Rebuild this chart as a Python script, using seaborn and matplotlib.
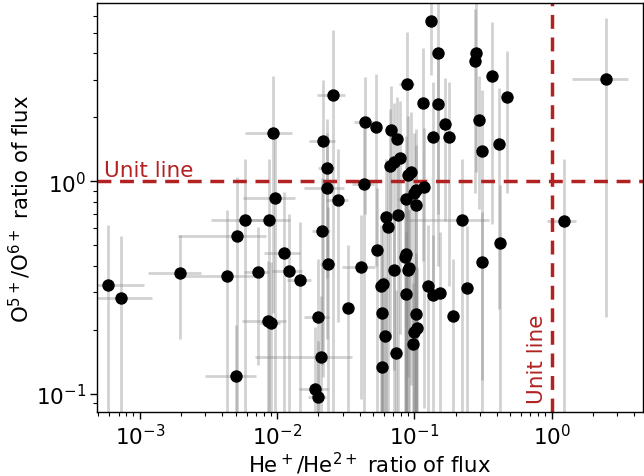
import numpy as np
import pandas as pd
import seaborn as sns
import matplotlib
matplotlib.use("Agg")
import matplotlib.pyplot as plt

sns.set_theme(style="ticks")
plt.rcParams['font.family'] = ['DejaVu Sans']
# seaborn greys the text and ticks, the reference keeps them black
plt.rcParams.update({"text.color": "black", "axes.labelcolor": "black",
                     "xtick.color": "black", "ytick.color": "black"})

# He+/He2+ ratio (x) and O5+/O6+ ratio (y)
he_ratio = [5.9e-4, 7.3e-4, 1.97e-3, 4.3e-3, 5.0e-3, 5.1e-3, 5.8e-3, 8.75e-3, 9.3e-3, 9.6e-3,
            7.2e-3, 0.0122, 0.0113, 8.55e-3, 9.05e-3, 0.0148, 0.0211, 0.0234, 0.0408, 0.0198,
            0.0327, 0.0209, 0.019, 0.0198, 0.0534, 0.0624, 0.0755, 0.0641, 0.0867, 0.102,
            0.221, 0.0867, 0.0853, 0.0916, 0.0897, 0.0706, 0.0587, 0.0568, 0.0871, 0.125,
            0.1355, 0.153, 0.24, 0.0583, 0.102, 0.19, 0.061, 0.105, 0.099, 0.097,
            0.0738, 0.0577, 1.22, 0.42, 0.311, 0.283, 0.277, 0.368, 0.473, 0.1475,
            0.166, 0.1786, 0.296, 0.31, 0.412, 2.5, 0.132, 0.1475, 0.0877, 0.0254,
            0.115, 0.0434, 0.0527, 0.0675, 0.0741, 0.1356, 0.0217, 0.023, 0.0232, 0.0276,
            0.043, 0.066, 0.0713, 0.0788, 0.0902, 0.0938, 0.117, 0.103, 0.099]
o_ratio = [0.325, 0.282, 0.37, 0.359, 0.121, 0.55, 0.656, 0.656, 1.69, 0.837,
           0.372, 0.379, 0.459, 0.22, 0.216, 0.343, 0.586, 0.409, 0.394, 0.229,
           0.253, 0.149, 0.105, 0.097, 0.476, 0.677, 0.692, 0.607, 0.822, 0.776,
           0.656, 0.456, 0.438, 0.39, 0.382, 0.38, 0.33, 0.321, 0.296, 0.323,
           0.291, 0.299, 0.316, 0.239, 0.238, 0.232, 0.186, 0.204, 0.195, 0.171,
           0.156, 0.133, 0.653, 0.51, 0.416, 4.0, 3.68, 3.13, 2.48, 2.30,
           1.85, 1.62, 1.94, 1.38, 1.50, 3.03, 5.65, 4.0, 2.85, 2.55,
           2.32, 1.90, 1.80, 1.74, 1.58, 1.62, 1.55, 1.15, 0.93, 0.817,
           0.968, 1.18, 1.23, 1.29, 1.07, 1.11, 0.936, 0.906, 0.877]
he_err = [4.8e-4, 5.0e-4, 8.2e-4, 2.5e-3, 2.0e-3, 3.2e-3, 2.5e-3, 3.6e-3, 3.5e-3, 4.0e-3,
          1.5e-3, 3.0e-3, 3.3e-3, 3.0e-3, 1.5e-3, 3.0e-3, 3.0e-3, 3.0e-3, 0.011, 4.0e-3,
          2.0e-3, 0.014, 4.5e-3, 3.0e-3, 5.0e-3, 4.0e-3, 4.0e-3, 4.0e-3, 0.011, 6.0e-3,
          0.13, 5.0e-3, 4.0e-3, 5.0e-3, 4.0e-3, 4.0e-3, 4.0e-3, 3.0e-3, 5.0e-3, 0.012,
          8.0e-3, 0.012, 0.02, 4.0e-3, 8.0e-3, 0.015, 4.0e-3, 0.01, 0.01, 6.0e-3,
          5.0e-3, 4.0e-3, 0.29, 0.03, 0.03, 0.02, 0.02, 0.03, 0.03, 0.01,
          0.012, 0.012, 0.02, 0.02, 0.03, 1.1, 0.01, 0.01, 0.011, 6.0e-3,
          8.0e-3, 7.0e-3, 4.0e-3, 5.0e-3, 5.0e-3, 8.0e-3, 4.7e-3, 3.0e-3, 7.4e-3, 5.0e-3,
          8.0e-3, 5.0e-3, 5.0e-3, 6.0e-3, 8.0e-3, 6.0e-3, 0.01, 8.0e-3, 8.0e-3]
o_err = [0.30, 0.27, 0.19, 0.37, 0.09, 0.50, 0.62, 0.62, 1.45, 0.80,
         0.235, 0.32, 0.43, 0.20, 0.20, 0.30, 0.45, 0.35, 0.30, 0.20,
         0.25, 0.14, 0.10, 0.08, 0.45, 0.60, 0.65, 0.55, 0.80, 0.70,
         0.62, 0.40, 0.40, 0.35, 0.35, 0.35, 0.30, 0.30, 0.28, 0.30,
         0.27, 0.28, 0.30, 0.22, 0.22, 0.20, 0.17, 0.19, 0.18, 0.16,
         0.15, 0.12, 0.62, 0.45, 0.30, 2.9, 2.8, 2.5, 1.6, 1.9,
         1.2, 1.3, 1.2, 1.3, 1.25, 2.8, 2.5, 3.3, 2.2, 2.6,
         1.9, 1.2, 1.4, 1.05, 0.9, 1.3, 1.43, 0.8, 0.75, 0.6,
         0.9, 1.0, 1.1, 1.1, 0.95, 1.0, 0.85, 0.85, 0.8]

df = pd.DataFrame({"he": he_ratio, "o": o_ratio, "he_err": he_err, "o_err": o_err})

unit_color = "#b22222"

fig = plt.figure(figsize=(6.44, 4.77), dpi=100)
ax = fig.add_axes([0.151, 0.134, 0.847, 0.858])

ax.errorbar(df["he"], df["o"], xerr=df["he_err"], yerr=df["o_err"],
            fmt="none", ecolor="grey", elinewidth=2, alpha=0.35)
sns.scatterplot(data=df, x="he", y="o", ax=ax, color="black", s=80,
                edgecolor="black", linewidth=0, zorder=3)

ax.set_xscale("log")
ax.set_yscale("log")
ax.set_xlim(4.9e-4, 4.6)
ax.set_ylim(0.082, 6.9)

ax.axhline(1, color=unit_color, ls="--", lw=2.5, dashes=(4, 2.5))
ax.axvline(1, color=unit_color, ls="--", lw=2.5, dashes=(4, 2.5))
ax.text(5.5e-4, 1.06, "Unit line", color=unit_color, fontsize=15.5, ha="left", va="baseline")
ax.text(0.92, 0.09, "Unit line", color=unit_color, fontsize=15.5, rotation=90,
        ha="right", va="bottom")

ax.set_xlabel(r"He$^+$/He$^{2+}$ ratio of flux", fontsize=15.3, labelpad=1)
ax.set_ylabel(r"O$^{5+}$/O$^{6+}$ ratio of flux", fontsize=15.3, labelpad=2)
ax.tick_params(axis="both", which="major", labelsize=15.5, length=5, width=1,
               direction="out", pad=3)
ax.tick_params(axis="both", which="minor", length=3, width=0.8, direction="out")
for sp in ax.spines.values():
    sp.set_color("black")
    sp.set_linewidth(1)

fig.savefig("out.png", dpi=100)
